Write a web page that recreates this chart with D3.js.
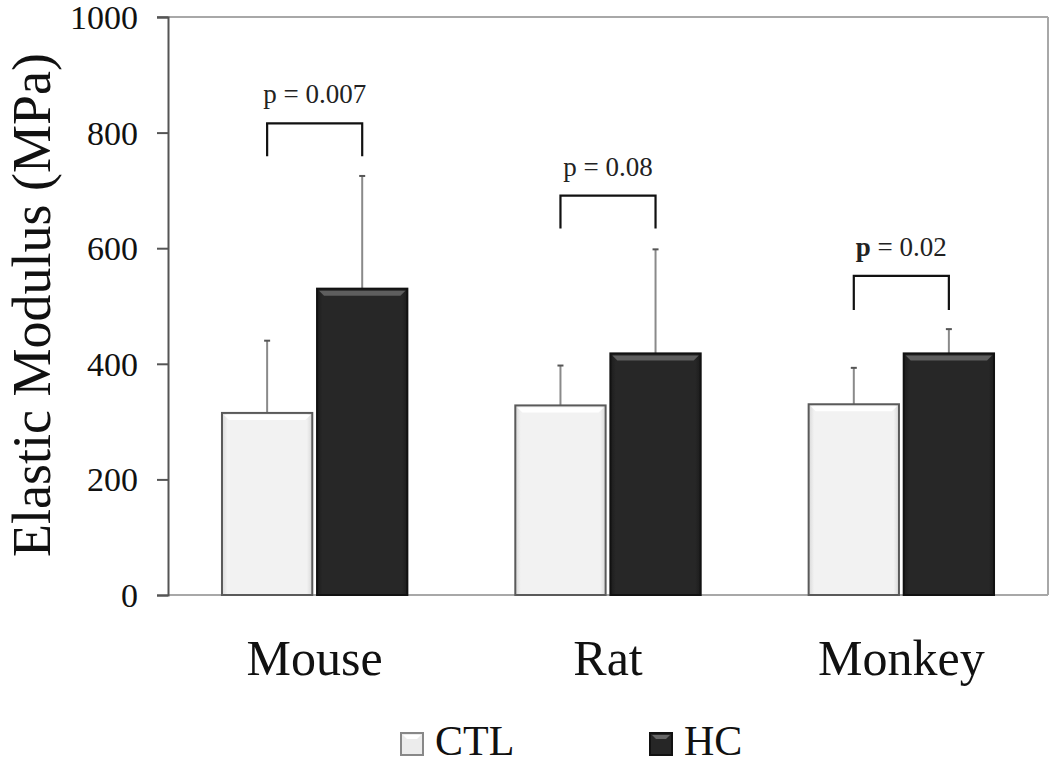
<!DOCTYPE html>
<html><head><meta charset="utf-8">
<script src="https://cdn.jsdelivr.net/npm/d3@7"></script>
<style>
body{margin:0;background:#fff;}
svg{display:block;font-family:"Liberation Serif","DejaVu Serif",serif;}
</style></head>
<body><svg id="c" width="1050" height="765"></svg>
<script>
const categories = ["Mouse","Rat","Monkey"];
const seriesNames = ["CTL","HC"];
const ctlMeans = [315, 328, 330];
const ctlErrors = [440, 397, 393];   // upper end of error bar
const hcMeans = [530, 418, 418];
const hcErrors = [725, 598, 460];
const pLabels = ["p = 0.007","p = 0.08","p = 0.02"];
const bracketTops = [816, 691, 552];
const bracketLegs = [759, 634, 493];
const yTicks = [0,200,400,600,800,1000];

const svg = d3.select("#c");
const L=168, R=1048, T=17, B=595;
const x0 = d3.scaleBand().domain(categories).range([L,R]).paddingInner(0.368).paddingOuter(0.184);
const x1 = d3.scaleBand().domain(seriesNames).range([0,x0.bandwidth()]).paddingInner(0.05);
const y = d3.scaleLinear().domain([0,1000]).range([B,T]);

// frame: top, right, bottom
svg.append("line").attr("x1",157).attr("x2",R).attr("y1",y(1000)).attr("y2",y(1000)).attr("stroke","#a8a8a8").attr("stroke-width",2);
svg.append("line").attr("x1",R).attr("x2",R).attr("y1",y(1000)).attr("y2",B).attr("stroke","#a8a8a8").attr("stroke-width",2);
svg.append("line").attr("x1",L).attr("x2",R).attr("y1",B).attr("y2",B).attr("stroke","#a8a8a8").attr("stroke-width",2);

// y axis
const yAxis = svg.append("g").attr("transform",`translate(${L},0)`)
  .call(d3.axisLeft(y).tickValues(yTicks).tickSize(11).tickPadding(19).tickFormat(d3.format("d")));
yAxis.select(".domain").attr("stroke","#555").attr("stroke-width",2);
yAxis.selectAll(".tick line").attr("stroke","#555").attr("stroke-width",2);
yAxis.selectAll(".tick text").attr("font-size",34).attr("font-family","Liberation Serif").attr("fill","#111").attr("dy","0.34em");

// y title
svg.append("text").attr("transform","translate(50,305) rotate(-90)").attr("text-anchor","middle")
  .attr("font-size",54).attr("fill","#111").text("Elastic Modulus (MPa)");

// gradients
const defs = svg.append("defs");
function grad(id, stops){
  const g = defs.append("linearGradient").attr("id",id).attr("x1",0).attr("y1",0).attr("x2",1).attr("y2",0);
  stops.forEach(s=>g.append("stop").attr("offset",s[0]).attr("stop-color",s[1]));
}
grad("ctlH",[[0,"#d8d8d8"],[0.06,"#f2f2f2"],[0.94,"#f2f2f2"],[1,"#d8d8d8"]]);
grad("hcH",[[0,"#1c1c1c"],[0.06,"#272727"],[0.94,"#272727"],[1,"#1c1c1c"]]);

const data = categories.map((c,i)=>({cat:c, vals:[
  {s:"CTL", m:ctlMeans[i], e:ctlErrors[i]},
  {s:"HC", m:hcMeans[i], e:hcErrors[i]}]}));

const groups = svg.selectAll("g.grp").data(data).join("g").attr("class","grp")
  .attr("transform",d=>`translate(${x0(d.cat)},0)`);

// error bars (behind bars)
groups.selectAll("g.err").data(d=>d.vals).join("g").attr("class","err").each(function(d){
  const g=d3.select(this), cx=x1(d.s)+x1.bandwidth()/2;
  g.append("line").attr("x1",cx).attr("x2",cx).attr("y1",y(d.m)).attr("y2",y(d.e)).attr("stroke","#8a8a8a").attr("stroke-width",2);
  g.append("line").attr("x1",cx-3).attr("x2",cx+3).attr("y1",y(d.e)).attr("y2",y(d.e)).attr("stroke","#555").attr("stroke-width",2);
});

// bars
groups.selectAll("g.bar").data(d=>d.vals).join("g").attr("class","bar").each(function(d){
  const g=d3.select(this), bx=x1(d.s), bw=x1.bandwidth(), by=y(d.m), bh=B-y(d.m);
  const ctl = d.s==="CTL";
  g.append("rect").attr("x",bx).attr("y",by).attr("width",bw).attr("height",bh)
    .attr("fill",ctl?"url(#ctlH)":"url(#hcH)").attr("stroke",ctl?"#5a5a5a":"#111").attr("stroke-width",2);
  g.append("path").attr("d",`M${bx+2},${by+2}L${bx+bw-2},${by+2}L${bx+bw-7},${by+7}L${bx+7},${by+7}Z`)
    .attr("fill",ctl?"#ffffff":"#5e5e5e");
});

// significance brackets
data.forEach((d,i)=>{
  const xa = x0(d.cat)+x1("CTL")+x1.bandwidth()/2;
  const xb = x0(d.cat)+x1("HC")+x1.bandwidth()/2;
  svg.append("path").attr("d",`M${xa},${y(bracketLegs[i])}V${y(bracketTops[i])}H${xb}V${y(bracketLegs[i])}`)
    .attr("fill","none").attr("stroke","#111").attr("stroke-width",2.2);
  const t = svg.append("text").attr("x",(xa+xb)/2).attr("y",y(bracketTops[i])-20).attr("text-anchor","middle")
    .attr("font-size",27).attr("fill","#222");
  if(i===2){
    t.append("tspan").attr("font-weight","bold").text("p");
    t.append("tspan").text(pLabels[i].slice(1));
  } else t.text(pLabels[i]);
});

// category labels
svg.selectAll("text.cat").data(categories).join("text").attr("class","cat")
  .attr("x",d=>x0(d)+x0.bandwidth()/2).attr("y",675).attr("text-anchor","middle")
  .attr("font-size",50).attr("fill","#111").text(d=>d);

// legend
const legX = [401, 650];
seriesNames.forEach((s,i)=>{
  const g = svg.append("g").attr("transform",`translate(${legX[i]},733)`);
  const ctl = s==="CTL";
  g.append("rect").attr("x",0).attr("y",0).attr("width",22).attr("height",22)
    .attr("fill",ctl?"#ececec":"#262626").attr("stroke",ctl?"#888":"#111").attr("stroke-width",2);
  g.append("path").attr("d","M2,2H20L16,6H6Z").attr("fill",ctl?"#fff":"#666");
  g.append("text").attr("x",34).attr("y",22).attr("font-size",42).attr("fill","#111").text(s);
});
</script></body></html>
